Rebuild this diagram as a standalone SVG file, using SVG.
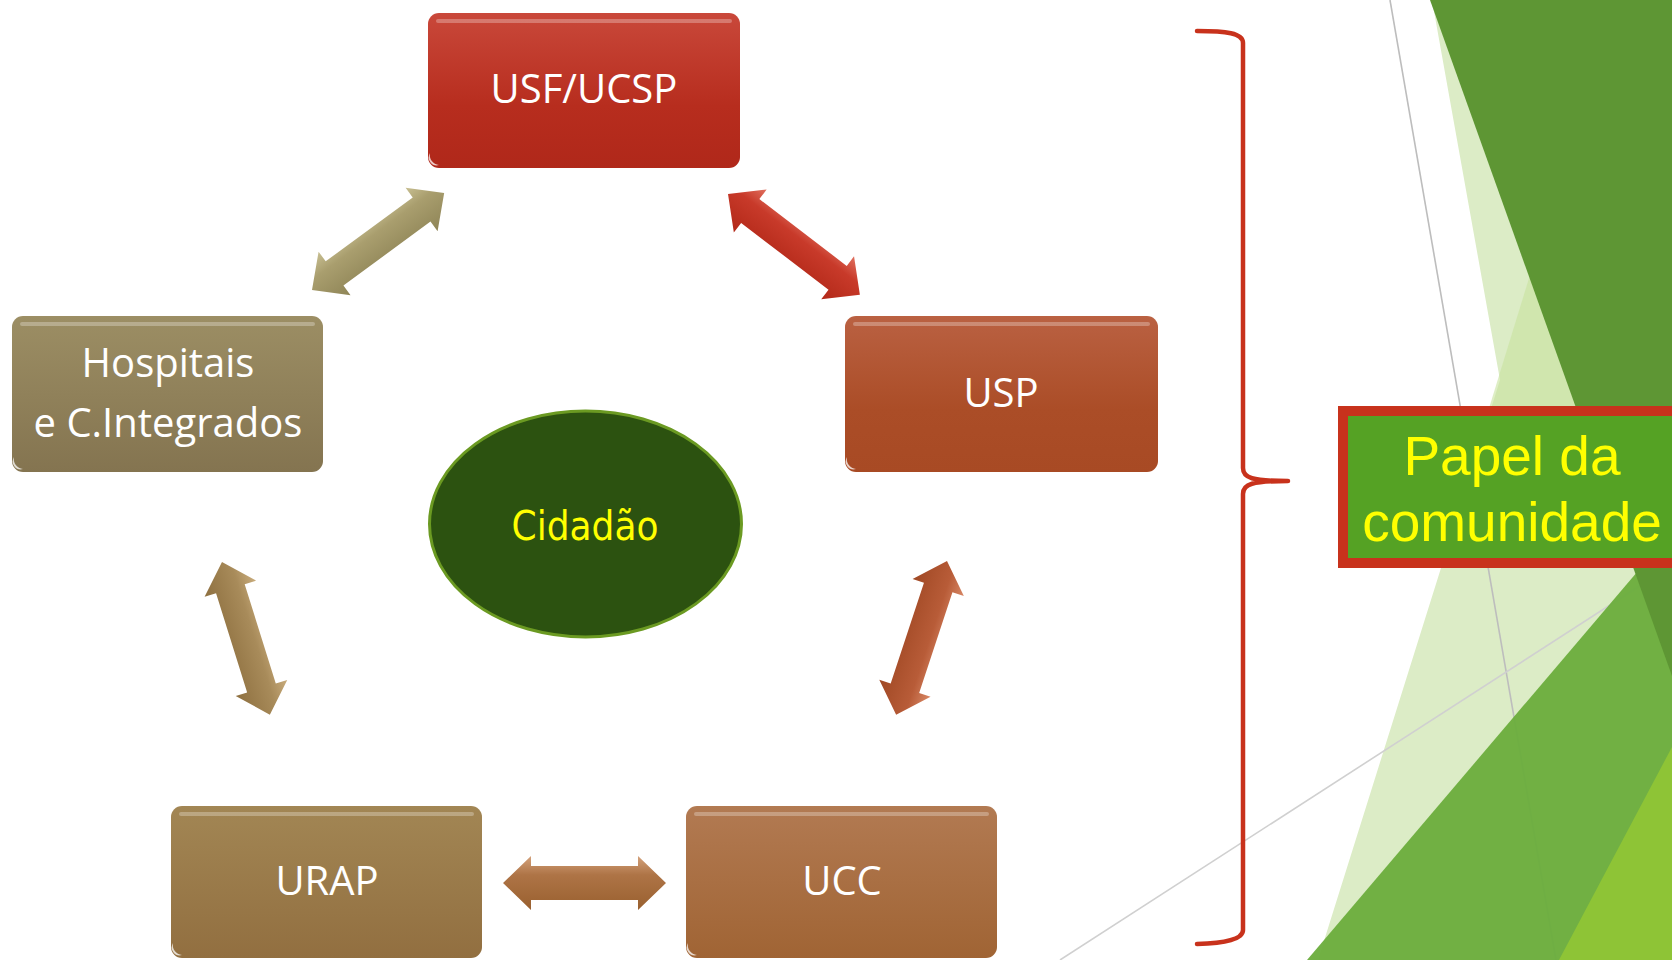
<svg xmlns="http://www.w3.org/2000/svg" width="1672" height="960" viewBox="0 0 1672 960">
<defs>
<style>
.lbl{font-family:"Open Sans","Liberation Sans",sans-serif;font-size:40px;fill:#ffffff;text-anchor:middle}
.cid{font-family:"DejaVu Sans Condensed","DejaVu Sans",sans-serif;font-size:40px;fill:#ffff00;text-anchor:middle}
.pap{font-family:"Liberation Sans",Arial,sans-serif;font-size:55px;fill:#ffff00;text-anchor:middle}
.hl{fill:#ffffff;opacity:0.28}
.dot{fill:#ffffff;opacity:0.75}
</style>
<linearGradient id="gRed" x1="0" y1="0" x2="0" y2="1"><stop offset="0" stop-color="#c9483a"/><stop offset="0.6" stop-color="#b72d1e"/><stop offset="1" stop-color="#b0281a"/></linearGradient>
<linearGradient id="gUsp" x1="0" y1="0" x2="0" y2="1"><stop offset="0" stop-color="#ba6142"/><stop offset="0.6" stop-color="#ab4d27"/><stop offset="1" stop-color="#a84a24"/></linearGradient>
<linearGradient id="gHos" x1="0" y1="0" x2="0" y2="1"><stop offset="0" stop-color="#9c8e64"/><stop offset="1" stop-color="#847450"/></linearGradient>
<linearGradient id="gUrap" x1="0" y1="0" x2="0" y2="1"><stop offset="0" stop-color="#a28654"/><stop offset="1" stop-color="#926f40"/></linearGradient>
<linearGradient id="gUcc" x1="0" y1="0" x2="0" y2="1"><stop offset="0" stop-color="#b27a52"/><stop offset="1" stop-color="#a06434"/></linearGradient>
<linearGradient id="aOlive" x1="0" y1="0" x2="0" y2="1"><stop offset="0" stop-color="#c8bf92"/><stop offset="0.35" stop-color="#a99e6e"/><stop offset="1" stop-color="#8f8557"/></linearGradient>
<linearGradient id="aRed" x1="0" y1="0" x2="0" y2="1"><stop offset="0" stop-color="#e0705f"/><stop offset="0.35" stop-color="#c83a2a"/><stop offset="1" stop-color="#b22818"/></linearGradient>
<linearGradient id="aTan" x1="0" y1="0" x2="0" y2="1"><stop offset="0" stop-color="#c9ac7c"/><stop offset="0.35" stop-color="#a88b5a"/><stop offset="1" stop-color="#8e7040"/></linearGradient>
<linearGradient id="aRust" x1="0" y1="0" x2="0" y2="1"><stop offset="0" stop-color="#d88866"/><stop offset="0.35" stop-color="#b85c38"/><stop offset="1" stop-color="#a04824"/></linearGradient>
<linearGradient id="aBrown" x1="0" y1="0" x2="0" y2="1"><stop offset="0" stop-color="#d4a27c"/><stop offset="0.35" stop-color="#ae7446"/><stop offset="1" stop-color="#99602f"/></linearGradient>
</defs>
<rect width="1672" height="960" fill="#ffffff"/>

<g id="background">
<polygon points="1432,0 1500,380 1318,960 1672,960 1672,0" fill="#dcecc6"/>
<polygon points="1530,275 1470,470 1600,470" fill="#c8e29e" opacity="0.6"/>
<line x1="1390" y1="0" x2="1556" y2="960" stroke="#bdbdbd" stroke-width="1.6"/>
<line x1="1060" y1="960" x2="1672" y2="565" stroke="#d0d0d0" stroke-width="1.6"/>
<polygon points="1307,960 1672,531 1672,960" fill="#6aad3c" opacity="0.95"/>
<polygon points="1430,0 1672,0 1672,676" fill="#5e9634"/>
<polygon points="1559,960 1672,747 1672,960" fill="#8ec436"/>
</g>

<g id="connectors">
<path id="a-hos-usf" transform="translate(312,290) rotate(-36.3)" d="M0,0 L28,-27 L28,-15 L136,-15 L136,-27 L164,0 L136,27 L136,15 L28,15 L28,27 Z" fill="url(#aOlive)"/>
<path id="a-usf-usp" transform="translate(728,194) rotate(37.4)" d="M0,0 L28,-27 L28,-15 L138,-15 L138,-27 L166,0 L138,27 L138,15 L28,15 L28,27 Z" fill="url(#aRed)"/>
<path id="a-hos-urap" transform="translate(222,562) rotate(72.6)" d="M0,0 L28,-27 L28,-15 L132,-15 L132,-27 L160,0 L132,27 L132,15 L28,15 L28,27 Z" fill="url(#aTan)"/>
<path id="a-usp-ucc" transform="translate(947,561) rotate(108.3)" d="M0,0 L28,-27 L28,-15 L134,-15 L134,-27 L162,0 L134,27 L134,15 L28,15 L28,27 Z" fill="url(#aRust)"/>
<path id="a-urap-ucc" transform="translate(503,883)" d="M0,0 L28,-27 L28,-17 L135,-17 L135,-27 L163,0 L135,27 L135,17 L28,17 L28,27 Z" fill="url(#aBrown)"/>
</g>

<g id="node-usf">
<rect x="428" y="13" width="312" height="155" rx="11" fill="url(#gRed)"/>
<rect class="hl" x="436" y="19" width="296" height="4" rx="2"/>
<path class="dot" d="M430,153 a8,8 0 0 0 9,12 a10,10 0 0 1 -9,-12 z"/>
<text class="lbl" x="584" y="103">USF/UCSP</text>
</g>

<g id="node-usp">
<rect x="845" y="316" width="313" height="156" rx="11" fill="url(#gUsp)"/>
<rect class="hl" x="853" y="322" width="297" height="4" rx="2"/>
<path class="dot" d="M847,457 a8,8 0 0 0 9,12 a10,10 0 0 1 -9,-12 z"/>
<text class="lbl" x="1001" y="407">USP</text>
</g>

<g id="node-hospitais">
<rect x="12" y="316" width="311" height="156" rx="11" fill="url(#gHos)"/>
<rect class="hl" x="20" y="322" width="295" height="4" rx="2"/>
<path class="dot" d="M14,457 a8,8 0 0 0 9,12 a10,10 0 0 1 -9,-12 z"/>
<text class="lbl" x="168" y="377">Hospitais</text>
<text class="lbl" x="168" y="437">e C.Integrados</text>
</g>

<g id="node-urap">
<rect x="171" y="806" width="311" height="152" rx="11" fill="url(#gUrap)"/>
<rect class="hl" x="179" y="812" width="295" height="4" rx="2"/>
<path class="dot" d="M173,943 a8,8 0 0 0 9,12 a10,10 0 0 1 -9,-12 z"/>
<text class="lbl" x="327" y="895">URAP</text>
</g>

<g id="node-ucc">
<rect x="686" y="806" width="311" height="152" rx="11" fill="url(#gUcc)"/>
<rect class="hl" x="694" y="812" width="295" height="4" rx="2"/>
<path class="dot" d="M688,943 a8,8 0 0 0 9,12 a10,10 0 0 1 -9,-12 z"/>
<text class="lbl" x="842" y="895">UCC</text>
</g>

<g id="node-cidadao">
<ellipse cx="585.5" cy="524" rx="156" ry="113" fill="#2c5210" stroke="#6b9a22" stroke-width="3"/>
<text class="cid" x="585" y="540">Cidadão</text>
</g>

<g id="bracket">
<path d="M1197,31 C1226,31 1243,33 1243,43 L1243,468 C1243,478 1252,481 1288,481 C1252,481 1243,484 1243,494 L1243,930 C1243,939 1226,943 1197,944" fill="none" stroke="#c8321c" stroke-width="4.5" stroke-linecap="round" stroke-linejoin="round"/>
</g>

<g id="node-papel">
<rect x="1343" y="411" width="340" height="152" fill="#55a224" stroke="#c8321c" stroke-width="10"/>
<text class="pap" x="1512" y="475">Papel da</text>
<text class="pap" x="1512" y="541">comunidade</text>
</g>
</svg>
